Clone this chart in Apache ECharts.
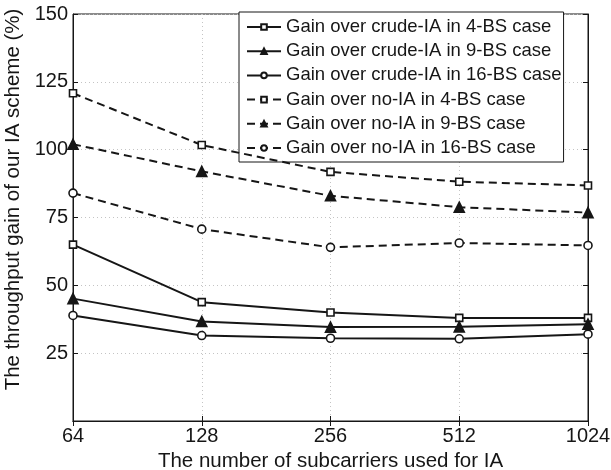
<!DOCTYPE html>
<html>
<head>
<meta charset="utf-8">
<script src="https://cdn.jsdelivr.net/npm/echarts@6/dist/echarts.min.js"></script>
<style>html,body{margin:0;padding:0;background:#fff}#c{width:611px;height:470px}</style>
</head>
<body>
<div id="c"></div>
<script>
var categories = ['64', '128', '256', '512', '1024'];
var crude4 = [65, 43.8, 40, 38, 38];
var crude9 = [45.1, 36.7, 34.6, 34.7, 35.7];
var crude16 = [38.9, 31.5, 30.5, 30.3, 32];
var noIA4 = [120.8, 101.7, 91.8, 88.2, 86.8];
var noIA9 = [102, 92, 83, 78.8, 76.8];
var noIA16 = [84, 70.7, 64, 65.6, 64.7];
var seriesNames = [
  'Gain over crude-IA in 4-BS case',
  'Gain over crude-IA in 9-BS case',
  'Gain over crude-IA in 16-BS case',
  'Gain over no-IA in 4-BS case',
  'Gain over no-IA in 9-BS case',
  'Gain over no-IA in 16-BS case'
];
var yTicks = [0, 25, 50, 75, 100, 125, 150];

var FONT = '"Liberation Sans", Arial, sans-serif';
var INK = '#161616';
var dataSets = [crude4, crude9, crude16, noIA4, noIA9, noIA16];
var symbols = ['rect', 'triangle', 'circle', 'rect', 'triangle', 'circle'];
var sizes = [7, 10, 8, 7, 10, 8];
var filled = [false, true, false, false, true, false];

var series = dataSets.map(function (d, i) {
  return {
    name: seriesNames[i],
    type: 'line',
    data: d,
    symbol: symbols[i],
    symbolSize: sizes[i],
    showAllSymbol: true,
    z: 5,
    lineStyle: { color: INK, width: 2, type: i < 3 ? 'solid' : [8, 5] },
    itemStyle: { color: filled[i] ? INK : '#fff', borderColor: INK, borderWidth: 1.6 },
    emphasis: { disabled: true },
    animation: false
  };
});

var chart = echarts.init(document.getElementById('c'), null, { renderer: 'canvas' });
chart.setOption({
  animation: false,
  backgroundColor: '#fff',
  grid: { left: 73, right: 23, top: 14, bottom: 49, containLabel: false, outerBoundsMode: 'none',
    show: true, borderColor: INK, borderWidth: 1, backgroundColor: 'transparent' },
  legend: {
    orient: 'vertical',
    left: 239, top: 12,
    backgroundColor: '#fff',
    borderColor: INK,
    borderWidth: 1,
    padding: [5, 2, 4, 7],
    itemWidth: 34,
    itemHeight: 7,
    itemGap: 4.2,
    data: seriesNames,
    textStyle: { fontFamily: FONT, fontSize: 18.5, color: INK, lineHeight: 20 },
    selectedMode: false
  },
  xAxis: [{
    type: 'category',
    data: categories,
    boundaryGap: false,
    name: 'The number of subcarriers used for IA',
    nameLocation: 'middle',
    nameGap: 25,
    nameTextStyle: { fontFamily: FONT, fontSize: 20.5, color: INK },
    axisLine: { lineStyle: { color: INK, width: 1 } },
    axisTick: { inside: true, length: 5, lineStyle: { color: INK } , alignWithLabel: true},
    axisLabel: { fontFamily: FONT, fontSize: 20, color: INK, margin: 5 },
    splitLine: { show: true, lineStyle: { color: '#c4c4c4', type: [1, 3], width: 1 } }
  }, {
    type: 'category',
    data: categories,
    boundaryGap: false,
    position: 'top',
    axisLine: { lineStyle: { color: INK } },
    axisTick: { inside: true, length: 5, lineStyle: { color: INK } },
    axisLabel: { show: false },
    splitLine: { show: false }
  }],
  yAxis: [{
    type: 'value',
    min: yTicks[0],
    max: yTicks[yTicks.length - 1],
    interval: 25,
    name: 'The throughput gain of our IA scheme (%)',
    nameLocation: 'middle',
    nameGap: 39,
    nameTextStyle: { fontFamily: FONT, fontSize: 20.5, color: INK, padding: [0, 0, 0, 36] },
    axisLine: { show: true, lineStyle: { color: INK, width: 1 } },
    axisTick: { show: true, inside: true, length: 5, lineStyle: { color: INK } },
    axisLabel: { fontFamily: FONT, fontSize: 20, color: INK, margin: 5, showMinLabel: false,
      formatter: function (v) { return v === 0 ? '' : String(v); } },
    splitLine: { show: true, lineStyle: { color: '#c4c4c4', type: [1, 3], width: 1 } }
  }, {
    type: 'value',
    min: yTicks[0],
    max: yTicks[yTicks.length - 1],
    interval: 25,
    position: 'right',
    axisLine: { show: true, lineStyle: { color: INK } },
    axisTick: { show: true, inside: true, length: 5, lineStyle: { color: INK } },
    axisLabel: { show: false },
    splitLine: { show: false }
  }],
  series: series
});
</script>
</body>
</html>
